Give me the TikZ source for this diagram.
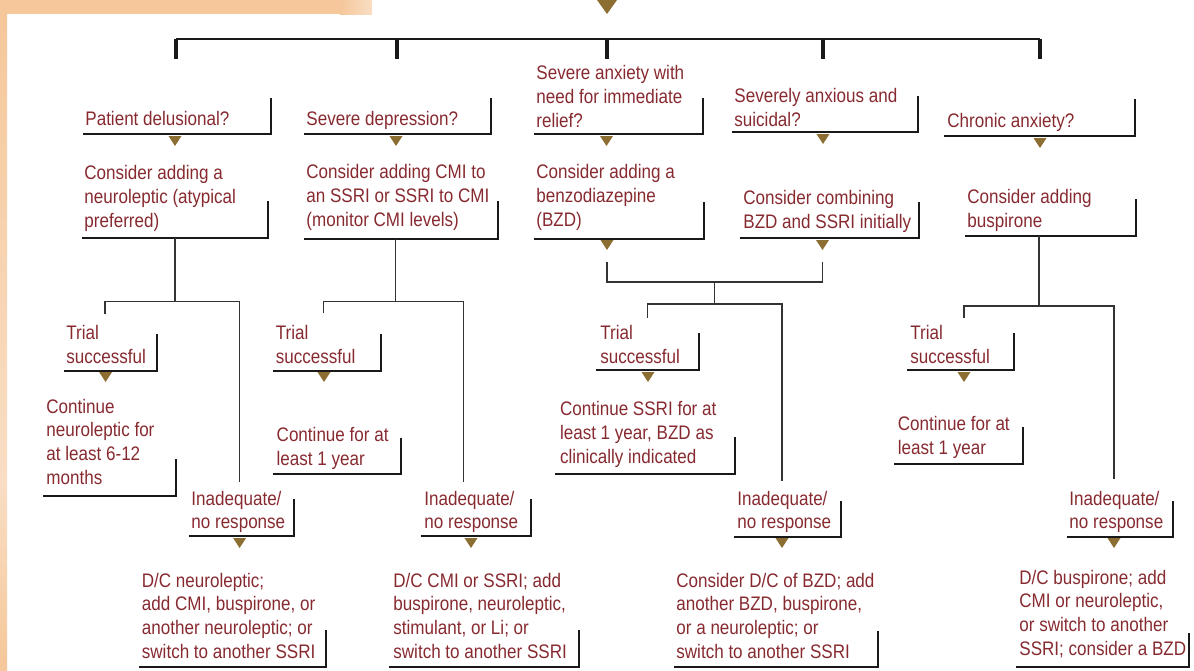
\documentclass[tikz,border=0pt]{standalone}
\usepackage{fontspec}
\setmainfont{Liberation Sans}[FakeStretch=0.87]
\definecolor{txtred}{RGB}{135,42,48}
\definecolor{tricol}{RGB}{140,110,50}
\definecolor{peach}{RGB}{245,199,154}
\definecolor{peachlt}{RGB}{249,222,196}
\newcommand\mybrk[4]{\draw[brk] (#1,#3) -- (#2,#3) -- (#2,#4);}
\newcommand\mytri[2]{\fill[tricol] ({#1-6.5},#2) -- ({#1+6.5},#2) -- (#1,{#2+10}) -- cycle;}
\begin{document}
\begin{tikzpicture}[x=0.5pt,y=-0.5pt,
  txt/.style={anchor=north west, inner sep=0pt, align=left, text=txtred,
    font=\fontsize{9.8}{11.85}\selectfont},
  brk/.style={draw=black!90, line width=1pt},
  tree/.style={draw=black!80, line width=0.75pt},
  trunk/.style={draw=black!90, line width=1pt},
  tick/.style={draw=black!90, line width=1.6pt}]
\useasboundingbox (0,0) rectangle (1194,670);
% background band
\fill[peach] (0,0) rectangle (340,14);
\shade[left color=peach, right color=peachlt] (339.5,0) rectangle (372,14);
\shade[top color=peach, bottom color=peachlt] (0,0) rectangle (7,480);
\shade[top color=peachlt, bottom color=peach] (0,479.5) rectangle (7,670);
% top arrow and trunk
\fill[tricol] (597,0) -- (617,0) -- (607,14) -- cycle;
\coordinate (tL) at (176,39);
\coordinate (tR) at (1040,39);
\draw[trunk] (tL) -- (tR);
\foreach \xx in {176,397,607,823,1040} \draw[tick] (\xx,39) -- (\xx,59);

% ---------- row 1: questions
\node[txt] (q1) at (85,109) {\strut Patient delusional?};
\mybrk{83}{270.5}{134}{98}
\mytri{175}{136}
\node[txt] (q2) at (306,109) {\strut Severe depression?};
\mybrk{303.5}{491}{134}{98}
\mytri{396}{136}
\node[txt] (q3) at (536,63) {\strut Severe anxiety with\\need for immediate\\relief?};
\mybrk{534}{702.5}{134}{98}
\mytri{606.5}{136}
\node[txt] (q4) at (734,86) {\strut Severely anxious and\\suicidal?};
\mybrk{731.5}{918}{132}{96}
\mytri{823}{134}
\node[txt] (q5) at (947,111) {\strut Chronic anxiety?};
\mybrk{944}{1135}{136}{99}
\mytri{1040}{138}

% ---------- row 2: actions
\node[txt] (r1) at (84,163) {\strut Consider adding a\\neuroleptic (atypical\\preferred)};
\mybrk{81.5}{268}{237.7}{201}
\node[txt] (r2) at (306,162) {\strut Consider adding CMI to\\an SSRI or SSRI to CMI\\(monitor CMI levels)};
\mybrk{303.5}{497.5}{238.7}{201}
\node[txt] (r3) at (536,162) {\strut Consider adding a\\benzodiazepine\\(BZD)};
\mybrk{534}{703.5}{239}{202}
\mytri{607}{240}
\node[txt] (r4) at (743,188) {\strut Consider combining\\BZD and SSRI initially};
\mybrk{739.5}{919}{238}{202}
\mytri{822.5}{240}
\node[txt] (r5) at (967,187) {\strut Consider adding\\buspirone};
\mybrk{964.5}{1136}{236}{199}

% ---------- column 1
\coordinate (s1) at (175,301.7);
\draw[tree] (175,238) -- (s1);
\draw[tree] (105,314) -- (105,301.7) -- (239.6,301.7) -- (239.6,481.7);
\node[txt] (t1) at (66,323) {\strut Trial\\successful};
\mybrk{63.5}{157}{370.7}{334}
\mytri{105.6}{372}
\node[txt] (k1) at (46,396) {\strut Continue\\neuroleptic for\\at least 6-12\\months};
\mybrk{43}{176}{496}{459}
\node[txt] (i1) at (191,488) {\strut Inadequate/\\no response};
\mybrk{189}{294}{536}{499}
\mytri{239.6}{538}
\node[txt] (d1) at (141.5,570) {\strut D/C neuroleptic;\\add CMI, buspirone, or\\another neuroleptic; or\\switch to another SSRI};
\mybrk{139}{326}{666.7}{630}

% ---------- column 2
\coordinate (s2) at (395.3,301.7);
\draw[tree] (395.3,238.7) -- (s2);
\draw[tree] (323.4,313) -- (323.4,301.7) -- (463.3,301.7) -- (463.3,481.7);
\node[txt] (t2) at (275.5,323) {\strut Trial\\successful};
\mybrk{272.5}{380.8}{370.7}{334}
\mytri{324}{372}
\node[txt] (k2) at (276.3,425) {\strut Continue for at\\least 1 year};
\mybrk{272.5}{400.7}{474.3}{437.7}
\node[txt] (i2) at (424,488) {\strut Inadequate/\\no response};
\mybrk{420.7}{530.7}{536}{499}
\mytri{471}{538}
\node[txt] (d2) at (393,570) {\strut D/C CMI or SSRI; add\\buspirone, neuroleptic,\\stimulant, or Li; or\\switch to another SSRI};
\mybrk{389}{578.6}{666.7}{630}

% ---------- column 3
\coordinate (j3) at (714.7,282);
\draw[tree] (607,262) -- (607,282) -- (822.3,282) -- (822.3,262);
\coordinate (s3) at (714.7,304);
\draw[tree] (j3) -- (s3);
\draw[tree] (647.5,318) -- (647.5,304) -- (782,304) -- (782,481);
\node[txt] (t3) at (600,323) {\strut Trial\\successful};
\mybrk{596}{699}{370}{333}
\mytri{648}{372}
\node[txt] (k3) at (559.6,399) {\strut Continue SSRI for at\\least 1 year, BZD as\\clinically indicated};
\mybrk{555.4}{735.4}{474}{437}
\node[txt] (i3) at (737,488) {\strut Inadequate/\\no response};
\mybrk{734}{840.8}{536.7}{500.7}
\mytri{782}{538}
\node[txt] (d3) at (676,570) {\strut Consider D/C of BZD; add\\another BZD, buspirone,\\or a neuroleptic; or\\switch to another SSRI};
\mybrk{673.7}{877.5}{666.7}{630.7}

% ---------- column 5
\coordinate (s5) at (1039,306);
\draw[tree] (1039,236) -- (s5);
\draw[tree] (964,318) -- (964,306) -- (1114,306) -- (1114,479);
\node[txt] (t5) at (910,323) {\strut Trial\\successful};
\mybrk{907}{1014}{370}{333}
\mytri{964}{372}
\node[txt] (k5) at (897.5,414) {\strut Continue for at\\least 1 year};
\mybrk{894}{1022.5}{464}{427}
\node[txt] (i5) at (1069,488) {\strut Inadequate/\\no response};
\mybrk{1066.7}{1173}{536.7}{500.7}
\mytri{1114}{538}
\node[txt] (d5) at (1019,567) {\strut D/C buspirone; add\\CMI or neuroleptic,\\or switch to another\\SSRI; consider a BZD};
\mybrk{1016}{1189}{667}{632.7}
\end{tikzpicture}
\end{document}
